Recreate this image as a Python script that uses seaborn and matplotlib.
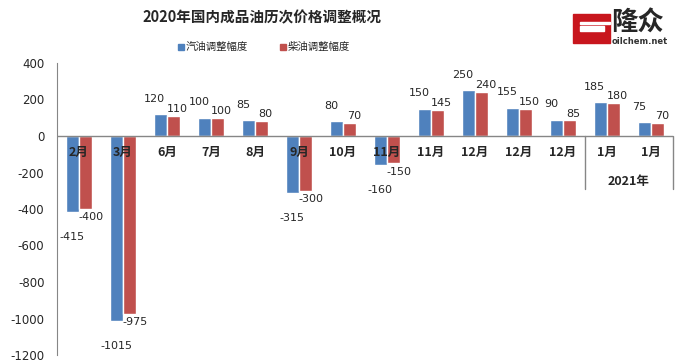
import numpy as np
import pandas as pd
import matplotlib
matplotlib.use("Agg")
import matplotlib.pyplot as plt
from matplotlib.patches import Rectangle
import seaborn as sns

# 数据
months = ["2月", "3月", "6月", "7月", "8月", "9月", "10月", "11月", "11月", "12月", "12月", "12月", "1月", "1月"]
gasoline = [-415, -1015, 120, 100, 85, -315, 80, -160, 150, 250, 155, 90, 185, 75]
diesel = [-400, -975, 110, 100, 80, -300, 70, -150, 145, 240, 150, 85, 180, 70]
series = ["汽油调整幅度", "柴油调整幅度"]
colors = ["#4F81BD", "#C0504D"]
yticks = [400, 200, 0, -200, -400, -600, -800, -1000, -1200]

sns.set_style("white")
plt.rcParams["font.family"] = ["DejaVu Sans", "Noto Sans CJK SC"]
cjk = ["Noto Sans CJK SC", "DejaVu Sans"]

n = len(months)
df = pd.DataFrame({
    "idx": list(range(n)) * 2,
    "value": gasoline + diesel,
    "series": [series[0]] * n + [series[1]] * n,
})

fig = plt.figure(figsize=(6.88, 3.64), dpi=100)
ax = fig.add_axes([57 / 688, 9 / 364, 616 / 688, 292 / 364])

sns.barplot(data=df, x="idx", y="value", hue="series", palette=colors,
            width=0.6, dodge=True, saturation=1, ax=ax, legend=False)

ax.set_ylim(-1200, 400)
ax.set_xlim(-0.5, n - 0.5)
ax.set_yticks(yticks)
ax.set_yticklabels([str(t) for t in yticks], fontsize=8.5)
ax.tick_params(axis="y", length=0, pad=9)
ax.set_xticks([])
ax.set_xlabel("")
ax.set_ylabel("")
for s in ["top", "right", "bottom"]:
    ax.spines[s].set_visible(False)
ax.spines["left"].set_color("#868686")
ax.axhline(0, color="#868686", lw=1, zorder=3)

# 数据标签
offsets = [(-4, 11, 0, -18), (3, 5, 4, -6)]
for k, cont in enumerate(ax.containers):
    up_dx, up_dy, dn_dx, dn_dy = offsets[k]
    for bar, v in zip(cont, [gasoline, diesel][k]):
        cx = bar.get_x() + bar.get_width() / 2
        if v >= 0:
            ax.annotate(str(v), (cx, v), xytext=(up_dx, up_dy), textcoords="offset points",
                        ha="center", va="center", fontsize=8)
        else:
            ax.annotate(str(v), (cx, v), xytext=(dn_dx, dn_dy), textcoords="offset points",
                        ha="center", va="center", fontsize=8)

# 类别标签
for i, m in enumerate(months):
    ax.text(i, -88, m, ha="center", va="center", fontsize=9, fontweight="bold",
            family=cjk, zorder=5)
ax.text(12.5, -250, "2021年", ha="center", va="center", fontsize=9, fontweight="bold",
        family=cjk)
for xv in [11.5, 13.5]:
    ax.plot([xv, xv], [0, -290], color="#868686", lw=1, clip_on=False)

# 标题与图例
fig.text(262 / 688, 1 - 17 / 364, "2020年国内成品油历次价格调整概况", ha="center", va="center",
         fontsize=10.5, fontweight="bold", family=cjk)
for x0, lab, c in [(178, series[0], colors[0]), (280, series[1], colors[1])]:
    fig.add_artist(Rectangle((x0 / 688, 1 - 50 / 364), 6 / 688, 6 / 364, color=c,
                             transform=fig.transFigure))
    fig.text((x0 + 8) / 688, 1 - 47 / 364, lab, ha="left", va="center", fontsize=7.5, family=cjk)

# 标志
fig.add_artist(Rectangle((573 / 688, 1 - 43 / 364), 37 / 688, 29 / 364, color="#C8161D",
                         transform=fig.transFigure))
fig.add_artist(Rectangle((580 / 688, 1 - 31 / 364), 24 / 688, 5 / 364, color="white",
                         transform=fig.transFigure))
fig.add_artist(Rectangle((580 / 688, 1 - 24 / 364), 30 / 688, 2 / 364, color="white",
                         transform=fig.transFigure))
fig.text(611 / 688, 1 - 23 / 364, "隆众", ha="left", va="center", fontsize=19,
         fontweight="bold", family=cjk)
fig.text(612 / 688, 1 - 41 / 364, "oilchem.net", ha="left", va="center", fontsize=6,
         fontweight="bold", color="#333333")

fig.savefig("out.png", dpi=100)
